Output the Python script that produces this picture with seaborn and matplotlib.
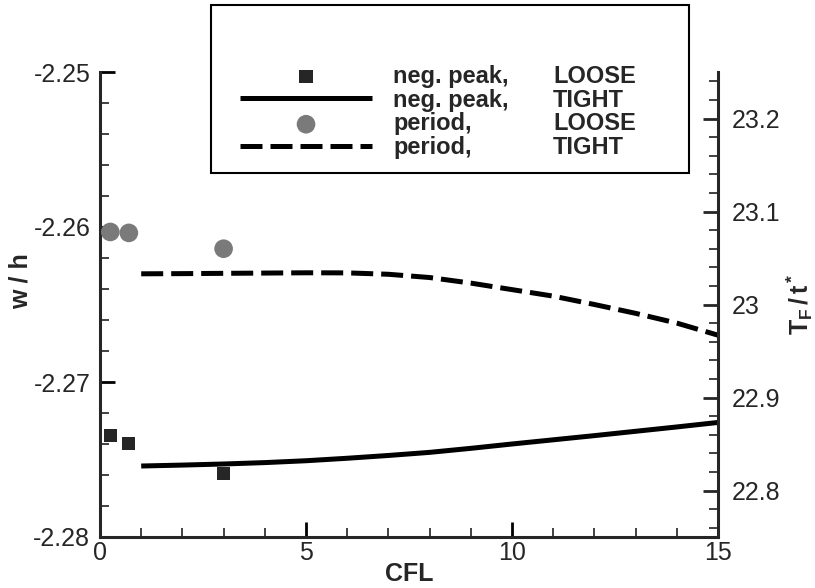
import numpy as np
import pandas as pd
import matplotlib
matplotlib.use("Agg")
import matplotlib.pyplot as plt
import seaborn as sns
from matplotlib.ticker import MultipleLocator, FuncFormatter
from matplotlib.patches import Rectangle

# ---------------- data ----------------
cfl_loose = [0.25, 0.7, 3.0]
negpeak_loose = [-2.27346, -2.27398, -2.27592]
period_loose = [23.078, 23.077, 23.060]

cfl_tight = [1, 2, 3, 4, 5, 6, 7, 8, 9, 10, 11, 12, 13, 14, 15]
negpeak_tight = [-2.27542, -2.27536, -2.27529, -2.27520, -2.27508, -2.27492, -2.27474,
                 -2.27454, -2.27428, -2.27400, -2.27373, -2.27346, -2.27318, -2.27290, -2.27261]
period_tight = [23.0330, 23.0332, 23.0335, 23.0338, 23.0341, 23.0340, 23.0325, 23.0290,
                23.0230, 23.0160, 23.0090, 23.0000, 22.9905, 22.9800, 22.9670]

legend_first = ["neg. peak,", "neg. peak,", "period,", "period,"]
legend_second = ["LOOSE", "TIGHT", "LOOSE", "TIGHT"]

left_ticks = [-2.28, -2.27, -2.26, -2.25]
right_ticks = [22.8, 22.9, 23.0, 23.1, 23.2]
x_ticks = [0, 5, 10, 15]

# ---------------- style ----------------
sns.set_style("white")
plt.rcParams["font.family"] = ["Liberation Sans", "DejaVu Sans"]
plt.rcParams["axes.unicode_minus"] = False
plt.rcParams["mathtext.fontset"] = "custom"
plt.rcParams["mathtext.bf"] = "Liberation Sans:bold"
plt.rcParams["mathtext.rm"] = "Liberation Sans:bold"
plt.rcParams["mathtext.it"] = "Liberation Sans:bold"

W, H = 815, 588
fig = plt.figure(figsize=(W / 100, H / 100), dpi=100)
ax = fig.add_axes([100 / W, 1 - 537 / H, 618 / W, 465 / H])
ax2 = ax.twinx()

df_loose = pd.DataFrame({"cfl": cfl_loose, "neg": negpeak_loose, "per": period_loose})
df_tight = pd.DataFrame({"cfl": cfl_tight, "neg": negpeak_tight, "per": period_tight})

lw = 3.6
sns.lineplot(data=df_tight, x="cfl", y="neg", ax=ax, color="black", linewidth=lw,
             errorbar=None, legend=False)
sns.scatterplot(data=df_loose, x="cfl", y="neg", ax=ax, marker="s", s=90,
                color="#262626", edgecolor="none", legend=False, zorder=5)
sns.lineplot(data=df_tight, x="cfl", y="per", ax=ax2, color="black", linewidth=lw,
             errorbar=None, legend=False)
sns.scatterplot(data=df_loose, x="cfl", y="per", ax=ax2, marker="o", s=180,
                color="#7a7a7a", edgecolor="none", legend=False, zorder=5)

for a in (ax, ax2):
    if a.get_legend() is not None:
        a.get_legend().remove()

solid = ax.lines[0]
solid.set_solid_capstyle("butt")
dashed = ax2.lines[0]
dashed.set_linestyle((0, (4.4, 1.6)))
dashed.set_dash_capstyle("butt")
sq = ax.collections[-1]
ci = ax2.collections[-1]

# ---------------- axes ----------------
ax.set_xlim(0, 15)
ax.set_ylim(-2.28, -2.25)
ax2.set_ylim(22.75, 23.25)

ax.set_xticks(x_ticks)
ax.xaxis.set_minor_locator(MultipleLocator(1))
ax.set_yticks(left_ticks)
ax.yaxis.set_minor_locator(MultipleLocator(0.002))
ax.yaxis.set_major_formatter(FuncFormatter(lambda v, p: f"{v:.2f}"))
ax2.set_yticks(right_ticks)
ax2.yaxis.set_minor_locator(MultipleLocator(0.02))
ax2.yaxis.set_major_formatter(FuncFormatter(lambda v, p: f"{v:g}"))

for a in (ax, ax2):
    a.spines["top"].set_visible(False)
    for s in a.spines.values():
        s.set_linewidth(2.2)
ax.spines["right"].set_visible(False)
ax2.spines["left"].set_visible(False)
ax2.spines["bottom"].set_visible(False)

tick_fs = 18
ax.tick_params(axis="both", which="major", direction="in", length=11, width=2,
               labelsize=tick_fs, color="black", left=True, bottom=True, right=False, top=False)
ax.tick_params(axis="both", which="minor", direction="in", length=6.5, width=1.3,
               color="#333333", left=True, bottom=True, right=False, top=False)
ax.tick_params(axis="y", which="major", pad=7)
ax.tick_params(axis="x", which="major", pad=3)
ax2.tick_params(axis="y", which="major", direction="in", length=11, width=2,
                labelsize=tick_fs, pad=10, right=True, left=False)
ax2.tick_params(axis="y", which="minor", direction="in", length=6.5, width=1.3,
                color="#333333", right=True, left=False)

lab_fs = 18
ax.set_xlabel("CFL", fontsize=lab_fs, fontweight="bold")
ax.xaxis.set_label_coords(0.5, -0.08)
ax.xaxis.label.set_verticalalignment("center")
ax.set_ylabel("w / h", fontsize=lab_fs, fontweight="bold")
ax.yaxis.set_label_coords((21 - 100) / 618, 0.55)
ax.yaxis.label.set_verticalalignment("center")
ax2.set_ylabel(r"$\mathbf{T_F\,/\,t^*}$", fontsize=lab_fs, rotation=90)
ax2.yaxis.set_label_coords((800 - 100) / 618, 0.5)
ax2.yaxis.label.set_verticalalignment("center")

ax.grid(False)
ax2.grid(False)

# ---------------- legend ----------------
box = Rectangle((211 / W, 1 - 173 / H), 478 / W, 168 / H, transform=fig.transFigure,
                facecolor="white", edgecolor="black", linewidth=1.5, zorder=4)
fig.add_artist(box)

handles = [sq, solid, ci, dashed]
leg_fs = 17
leg = fig.legend(handles, legend_first, loc="upper left",
                 bbox_to_anchor=(240 / W, 1 - 65 / H), bbox_transform=fig.transFigure,
                 frameon=False, borderpad=0, borderaxespad=0, handlelength=132 / 23.6,
                 handletextpad=0.9, labelspacing=0.03, scatterpoints=1,
                 prop={"size": leg_fs, "weight": "bold"})
leg.set_zorder(6)

fig.canvas.draw()
for t, word in zip(leg.get_texts(), legend_second):
    xd, yd = t.get_transform().transform(t.get_position())
    fig.text(553 / W, yd / fig.bbox.height, word, ha="left", va="baseline",
             fontsize=leg_fs, fontweight="bold", zorder=7)

fig.savefig("out.png", dpi=100)
